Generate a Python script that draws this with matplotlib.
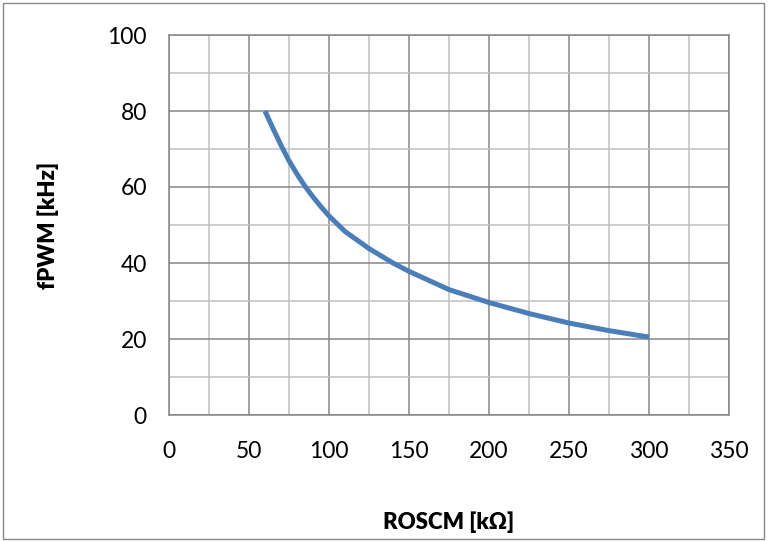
import matplotlib
matplotlib.use("Agg")
import matplotlib.pyplot as plt
from matplotlib.patches import Rectangle
from matplotlib.ticker import MultipleLocator

# dane
roscm = [60, 65, 70, 75, 80, 85, 90, 95, 100, 110, 125, 140, 150, 175, 200, 225, 250, 275, 300]
fpwm = [80, 75.4, 71.0, 66.9, 63.4, 60.2, 57.4, 54.8, 52.4, 48.3, 43.8, 40.0, 37.8, 33.0, 29.6,
        26.7, 24.2, 22.2, 20.5]

x_ticks = [0, 50, 100, 150, 200, 250, 300, 350]
y_ticks = [0, 20, 40, 60, 80, 100]

plt.rcParams['font.family'] = ['Lato', 'DejaVu Sans']

fig = plt.figure(figsize=(7.68, 5.42), dpi=100)
ax = fig.add_axes([169 / 768, 1 - 415 / 542, 560 / 768, 380 / 542])

ax.plot(roscm, fpwm, color="#4a7ebb", linewidth=3.6, solid_capstyle="butt",
        solid_joinstyle="round", zorder=3)

ax.set_xlim(0, 350)
ax.set_ylim(0, 100)
ax.set_xticks(x_ticks)
ax.set_yticks(y_ticks)
ax.xaxis.set_minor_locator(MultipleLocator(25))
ax.yaxis.set_minor_locator(MultipleLocator(10))
ax.grid(which="major", color="#868686", linewidth=1.1)
ax.grid(which="minor", color="#c0c0c0", linewidth=1.1)
ax.set_axisbelow(True)
ax.tick_params(which="both", length=0, labelsize=16.5)
ax.tick_params(axis="x", pad=19)
ax.tick_params(axis="y", pad=16)
for s in ax.spines.values():
    s.set_color("#868686")
    s.set_linewidth(1.1)

ax.set_xlabel("ROSCM [kΩ]", fontsize=16, fontweight="heavy", labelpad=35)
ax.set_ylabel("fPWM [kHz]", fontsize=16, fontweight="heavy", labelpad=35)

# ramka wokol wykresu
fig.patches.append(Rectangle((3 / 768, 3 / 542), 761 / 768, 536 / 542, transform=fig.transFigure,
                             fill=False, edgecolor="#898989", linewidth=1))

fig.savefig("out.png", dpi=100)
